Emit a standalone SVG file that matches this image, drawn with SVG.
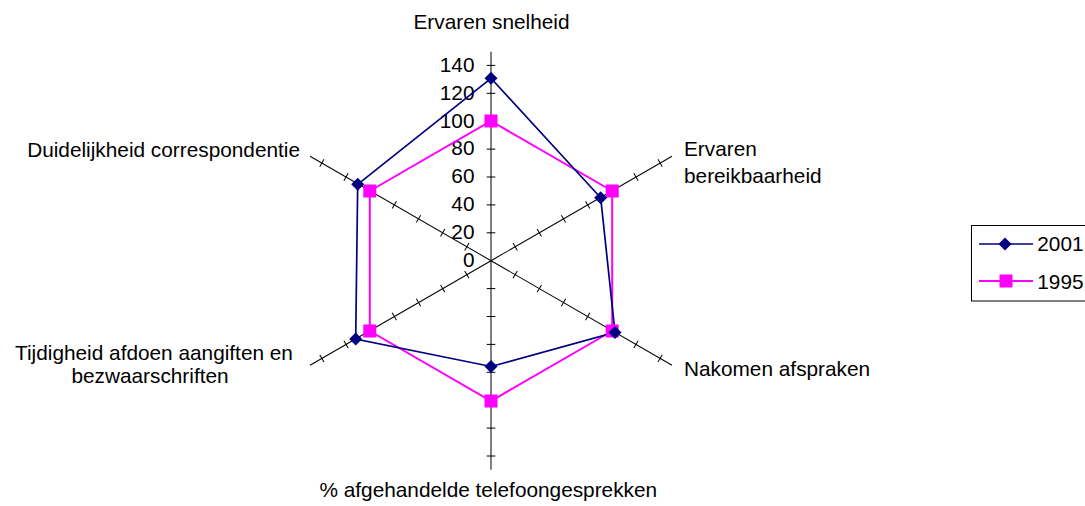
<svg xmlns="http://www.w3.org/2000/svg" xmlns:xlink="http://www.w3.org/1999/xlink" width="1085" height="506" viewBox="0 0 1085 506">
<style>
text{font-family:"Liberation Sans",Arial,sans-serif;font-size:20.8px;fill:#000}
.ax{stroke:#000;stroke-width:1;fill:none}
.s01{stroke:#000080;stroke-width:1.7;fill:none}
.s95{stroke:#FF00FF;stroke-width:2;fill:none}
.m01{fill:#000080}
.m95{fill:#FF00FF}
</style>
<defs>
<g id="halfaxis">
<line class="ax" x1="0" y1="0" x2="209" y2="0"/>
<path class="ax" d="M27.9,-4.3V4.3M55.8,-4.3V4.3M83.7,-4.3V4.3M111.6,-4.3V4.3M139.5,-4.3V4.3M167.4,-4.3V4.3M195.3,-4.3V4.3"/>
</g>
<path id="dia" d="M0,-6.5L6.5,0L0,6.5L-6.5,0Z"/>
<rect id="sq" x="-6.5" y="-6.5" width="13" height="13"/>
</defs>
<rect width="1085" height="506" fill="#fff"/>
<g id="axes">
<use xlink:href="#halfaxis" transform="translate(491,260.7) rotate(-90)"/>
<use xlink:href="#halfaxis" transform="translate(491,260.7) rotate(-30)"/>
<use xlink:href="#halfaxis" transform="translate(491,260.7) rotate(30)"/>
<use xlink:href="#halfaxis" transform="translate(491,260.7) rotate(90)"/>
<use xlink:href="#halfaxis" transform="translate(491,260.7) rotate(150)"/>
<use xlink:href="#halfaxis" transform="translate(491,260.7) rotate(210)"/>
</g>
<g id="scale" text-anchor="end">
<text x="474.5" y="267">0</text>
<text x="474.5" y="239.1">20</text>
<text x="474.5" y="211.2">40</text>
<text x="474.5" y="183.3">60</text>
<text x="474.5" y="155.4">80</text>
<text x="474.5" y="127.5">100</text>
<text x="474.5" y="99.6">120</text>
<text x="474.5" y="71.7">140</text>
</g>
<g id="connectors">
<polygon class="s95" points="491,121 612.2,191 612.2,331 491,401 369.8,331 369.8,191"/>
<polygon class="s01" points="491,78.3 600.7,197.8 615,332.4 491,366.5 355.7,339 357.7,184.3"/>
</g>
<g id="series-1995">
<use xlink:href="#sq" class="m95" x="491" y="121"/>
<use xlink:href="#sq" class="m95" x="612.2" y="191"/>
<use xlink:href="#sq" class="m95" x="612.2" y="331"/>
<use xlink:href="#sq" class="m95" x="491" y="401"/>
<use xlink:href="#sq" class="m95" x="369.8" y="331"/>
<use xlink:href="#sq" class="m95" x="369.8" y="191"/>
</g>
<g id="series-2001">
<use xlink:href="#dia" class="m01" x="491" y="78.3"/>
<use xlink:href="#dia" class="m01" x="600.7" y="197.8"/>
<use xlink:href="#dia" class="m01" x="615" y="332.4"/>
<use xlink:href="#dia" class="m01" x="491" y="366.5"/>
<use xlink:href="#dia" class="m01" x="355.7" y="339"/>
<use xlink:href="#dia" class="m01" x="357.7" y="184.3"/>
</g>
<g id="label-snelheid"><text x="491.5" y="29.3" text-anchor="middle">Ervaren snelheid</text></g>
<g id="label-bereikbaarheid"><text x="684" y="156">Ervaren</text><text x="684" y="183.3">bereikbaarheid</text></g>
<g id="label-afspraken"><text x="684" y="376">Nakomen afspraken</text></g>
<g id="label-telefoon"><text x="488.3" y="496.7" text-anchor="middle">% afgehandelde telefoongesprekken</text></g>
<g id="label-tijdigheid"><text x="154" y="360" text-anchor="middle">Tijdigheid afdoen aangiften en</text><text x="150" y="383.3" text-anchor="middle">bezwaarschriften</text></g>
<g id="label-duidelijkheid"><text x="300" y="156.7" text-anchor="end">Duidelijkheid correspondentie</text></g>
<g id="legend">
<rect x="971.5" y="225.5" width="130" height="75.5" fill="#fff" stroke="#000" stroke-width="1"/>
<line class="s01" x1="979" y1="244" x2="1033" y2="244"/>
<use xlink:href="#dia" class="m01" x="1005" y="244"/>
<text x="1037.3" y="251">2001</text>
<line class="s95" x1="979" y1="281" x2="1033" y2="281"/>
<use xlink:href="#sq" class="m95" x="1006" y="281"/>
<text x="1037.3" y="288.5">1995</text>
</g>
</svg>
